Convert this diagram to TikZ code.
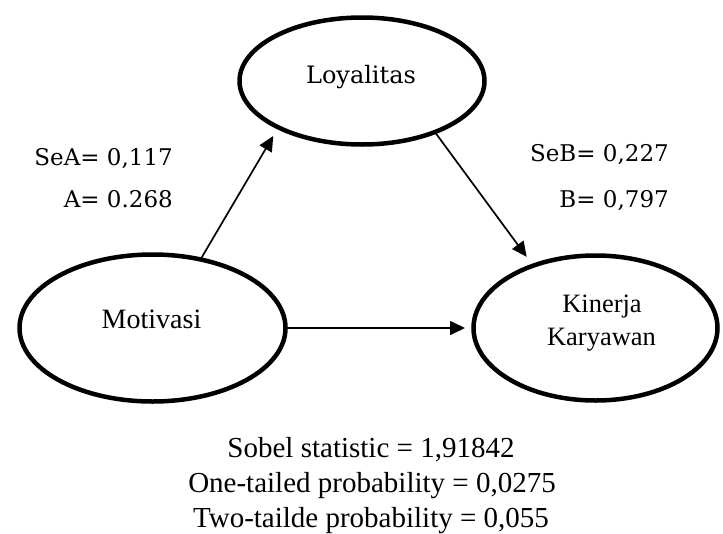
\documentclass[tikz,border=0pt]{standalone}
\usepackage{fontspec}
\setmainfont{Liberation Serif}
\newfontfamily\labfont{DejaVu Serif}
\usetikzlibrary{shapes.geometric,arrows.meta}
\begin{document}
\begin{tikzpicture}[x=1pt,y=-1pt,
  oval/.style={draw,ellipse,line width=4.5pt,inner sep=0pt,outer sep=0pt},
  conn/.style={line width=1.7pt,-{Triangle[length=15pt,width=14pt]}},
  nodetext/.style={anchor=base,inner sep=0pt,font=\fontsize{28}{33}\selectfont},
  kintext/.style={anchor=base,inner sep=0pt,font=\fontsize{26.5}{30}\selectfont},
  loytext/.style={anchor=base,inner sep=0pt,font=\labfont\fontsize{24}{28}\selectfont},
  coef/.style={anchor=base east,inner sep=0pt,font=\labfont\fontsize{23}{28}\selectfont},
  stat/.style={anchor=base,inner sep=0pt,font=\fontsize{29}{35}\selectfont}]
\useasboundingbox (0,0) rectangle (723,533);
% ovals
\node[oval,minimum width=245pt,minimum height=127pt] (L) at (362,81) {};
\node[oval,minimum width=266pt,minimum height=147pt] (M) at (152.5,328) {};
\node[oval,minimum width=244pt,minimum height=145pt] (K) at (595.5,328) {};
% texts in ovals
\node[loytext] (Lt) at (361,83) {Loyalitas};
\node[nodetext] (Mt) at (151.5,328) {Motivasi};
\node[kintext] (Kt1) at (602,312) {Kinerja};
\node[kintext] (Kt2) at (601.5,345) {Karyawan};
% coefficients
\node[coef] (sea) at (173,165) {SeA= 0,117};
\node[coef] (a) at (173,207) {A= 0.268};
\node[coef] (seb) at (669,161) {SeB= 0,227};
\node[coef] (b) at (669,207) {B= 0,797};
% statistics
\node[stat] (s1) at (371,457) {Sobel statistic = 1,91842};
\node[stat] (s2) at (372,492) {One-tailed probability = 0,0275};
\node[stat] (s3) at (371,527) {Two-tailde probability = 0,055};
% connectors
\draw[conn,shorten >=10pt] (M.55) -- (L.209.5);
\draw[conn,shorten >=11pt] (L.-35.6) -- (K.135.9);
\draw[conn,shorten >=8.5pt] (M.east) -- (K.west);
\end{tikzpicture}
\end{document}
